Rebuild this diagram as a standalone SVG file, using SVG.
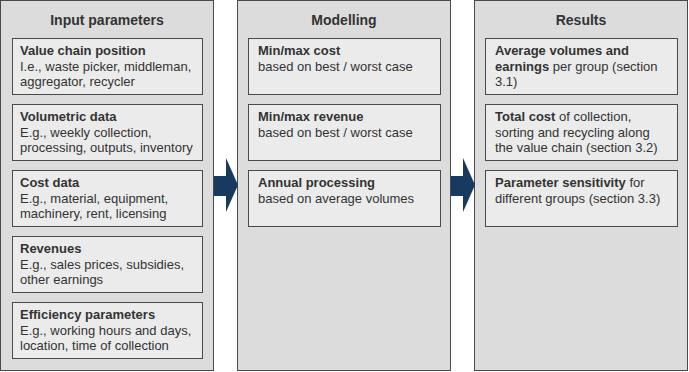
<svg xmlns="http://www.w3.org/2000/svg" width="689" height="372" viewBox="0 0 689 372">
<style>
.panel{fill:#dcdcdc;stroke:#4a4a4a;stroke-width:1}
.box{fill:#ebebeb;stroke:#4a4a4a;stroke-width:1}
text{font-family:"Liberation Sans",Arial,sans-serif;fill:#333333;font-size:13px}
.title{font-size:14px;font-weight:bold;text-anchor:middle}
.b{font-weight:bold}
.arrow{fill:#173a5e}
</style>
<rect width="689" height="372" fill="#ffffff"/>
<g id="panel-input">
<rect class="panel" x="0.5" y="0.5" width="213" height="370"/>
<text class="title" x="107" y="25">Input parameters</text>
</g>
<g id="panel-modelling">
<rect class="panel" x="237.5" y="0.5" width="213" height="370"/>
<text class="title" x="344" y="25">Modelling</text>
</g>
<g id="panel-results">
<rect class="panel" x="474.5" y="0.5" width="213" height="370"/>
<text class="title" x="581" y="25">Results</text>
</g>
<g id="value-chain">
<rect class="box" x="12.5" y="38.5" width="190" height="56"/>
<text x="20" y="55" class="b">Value chain position</text>
<text x="20" y="71">I.e., waste picker, middleman,</text>
<text x="20" y="86">aggregator, recycler</text>
</g>
<g id="volumetric">
<rect class="box" x="12.5" y="104.5" width="190" height="56"/>
<text x="20" y="121" class="b">Volumetric data</text>
<text x="20" y="137">E.g., weekly collection,</text>
<text x="20" y="152">processing, outputs, inventory</text>
</g>
<g id="cost-data">
<rect class="box" x="12.5" y="170.5" width="190" height="56"/>
<text x="20" y="187" class="b">Cost data</text>
<text x="20" y="203">E.g., material, equipment,</text>
<text x="20" y="218">machinery, rent, licensing</text>
</g>
<g id="revenues">
<rect class="box" x="12.5" y="236.5" width="190" height="56"/>
<text x="20" y="253" class="b">Revenues</text>
<text x="20" y="269">E.g., sales prices, subsidies,</text>
<text x="20" y="284">other earnings</text>
</g>
<g id="efficiency">
<rect class="box" x="12.5" y="302.5" width="190" height="56"/>
<text x="20" y="319" class="b">Efficiency parameters</text>
<text x="20" y="335">E.g., working hours and days,</text>
<text x="20" y="350">location, time of collection</text>
</g>
<g id="minmax-cost">
<rect class="box" x="248.5" y="38.5" width="192" height="56"/>
<text x="258" y="55" class="b">Min/max cost</text>
<text x="258" y="71">based on best / worst case</text>
</g>
<g id="minmax-revenue">
<rect class="box" x="248.5" y="104.5" width="192" height="56"/>
<text x="258" y="121" class="b">Min/max revenue</text>
<text x="258" y="137">based on best / worst case</text>
</g>
<g id="annual-processing">
<rect class="box" x="248.5" y="170.5" width="192" height="56"/>
<text x="258" y="187" class="b">Annual processing</text>
<text x="258" y="203">based on average volumes</text>
</g>
<g id="avg-volumes">
<rect class="box" x="485.5" y="38.5" width="192" height="56"/>
<text x="495" y="55" class="b">Average volumes and</text>
<text x="495" y="71"><tspan class="b">earnings</tspan> per group (section</text>
<text x="495" y="86">3.1)</text>
</g>
<g id="total-cost">
<rect class="box" x="485.5" y="104.5" width="192" height="56"/>
<text x="495" y="121"><tspan class="b">Total cost</tspan> of collection,</text>
<text x="495" y="137">sorting and recycling along</text>
<text x="495" y="152">the value chain (section 3.2)</text>
</g>
<g id="sensitivity">
<rect class="box" x="485.5" y="170.5" width="192" height="56"/>
<text x="495" y="187"><tspan class="b">Parameter sensitivity</tspan> for</text>
<text x="495" y="203">different groups (section 3.3)</text>
</g>
<g id="connectors">
<polygon class="arrow" points="214,176 226,176 226,158 238,185 226,212 226,196 214,196"/>
<polygon class="arrow" points="451,176 463,176 463,158 475,185 463,212 463,196 451,196"/>
</g>
</svg>
